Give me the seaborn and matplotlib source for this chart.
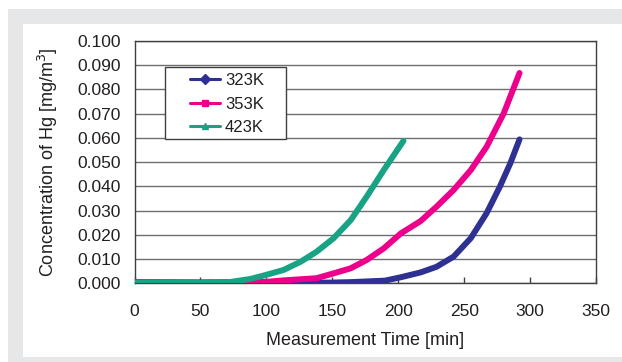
import numpy as np
import pandas as pd
import matplotlib
matplotlib.use("Agg")
import matplotlib.pyplot as plt
from matplotlib.lines import Line2D
from matplotlib.patches import Rectangle
import seaborn as sns

# values (time in min, Hg in mg/m3)
t_323 = [0, 50, 100, 150, 165, 190, 202, 217, 229, 242, 255, 267, 277, 285, 292]
v_323 = [0.0003, 0.0002, 0.0002, 0.0003, 0.0005, 0.0011, 0.0025, 0.0045, 0.0068,
         0.0110, 0.0186, 0.0289, 0.0398, 0.0495, 0.0594]

t_353 = [0, 50, 100, 113, 138, 151, 164, 176, 189, 202, 217, 229, 242, 255, 267, 280, 292]
v_353 = [0.0005, 0.0004, 0.0006, 0.0012, 0.0021, 0.0041, 0.0062, 0.0096, 0.0144,
         0.0206, 0.0257, 0.0316, 0.0385, 0.0467, 0.0563, 0.0701, 0.0868]

t_423 = [0, 50, 72, 88, 100, 113, 126, 138, 151, 164, 176, 189, 204]
v_423 = [0.0002, 0.0002, 0.0005, 0.0018, 0.0035, 0.0055, 0.0089, 0.0130, 0.0186,
         0.0261, 0.0357, 0.0467, 0.0588]

series = ["323K", "353K", "423K"]
colors = ["#2E3192", "#EC008C", "#17A384"]
markers = ["D", "s", "^"]

x_ticks = [0, 50, 100, 150, 200, 250, 300, 350]
y_ticks = [0.0, 0.01, 0.02, 0.03, 0.04, 0.05, 0.06, 0.07, 0.08, 0.09, 0.10]

df = pd.concat([
    pd.DataFrame({"time": t_323, "hg": v_323, "temp": "323K"}),
    pd.DataFrame({"time": t_353, "hg": v_353, "temp": "353K"}),
    pd.DataFrame({"time": t_423, "hg": v_423, "temp": "423K"}),
])

sns.set_theme(style="white")
plt.rcParams["font.family"] = ["Liberation Sans", "DejaVu Sans"]

W, H = 622, 362
fig = plt.figure(figsize=(W / 100, H / 100), dpi=100)
fig.patch.set_facecolor("white")

# gray frame with white inner panel
fig.patches.append(Rectangle((8 / W, 0), 1, (H - 9) / H, transform=fig.transFigure,
                             facecolor="#E6E7E8", edgecolor="none", zorder=-2))
fig.patches.append(Rectangle((23 / W, 5 / H), 1, (357 - 24) / H, transform=fig.transFigure,
                             facecolor="white", edgecolor="none", zorder=-1))

ax_l, ax_t, ax_w, ax_h = 134.5, 41.0, 461.5, 242.3
ax = fig.add_axes([ax_l / W, 1 - (ax_t + ax_h) / H, ax_w / W, ax_h / H])
ax.set_facecolor("white")

sns.lineplot(data=df, x="time", y="hg", hue="temp", palette=dict(zip(series, colors)),
             linewidth=4.3, legend=False, ax=ax, solid_capstyle="round", zorder=3)

ax.set_xlim(0, 350)
ax.set_ylim(0, 0.10)
ax.set_xticks(x_ticks)
ax.set_yticks(y_ticks)
ax.set_yticklabels([f"{v:.3f}" for v in y_ticks])
ax.yaxis.grid(True, color="#6d6e71", linewidth=1.0)
ax.set_axisbelow(True)

for s in ax.spines.values():
    s.set_color("#404040")
    s.set_linewidth(1.0)
    s.set_visible(True)

ax.tick_params(axis="x", direction="in", length=4, width=1, color="#404040",
               labelsize=12.5, pad=15, bottom=True)
ax.tick_params(axis="y", length=0, labelsize=12.5, pad=10)
for lbl in ax.get_xticklabels() + ax.get_yticklabels():
    lbl.set_color("#231f20")

ax.set_xlabel("Measurement Time [min]", fontsize=13, color="#231f20", labelpad=9)
ax.set_ylabel("Concentration of Hg [mg/m$^3$]", fontsize=13, color="#231f20", labelpad=12)


def to_ax(px, py):
    # pixel position in the picture -> axes fraction
    return (px - ax_l) / ax_w, (ax_t + ax_h - py) / ax_h


# legend frame drawn by hand to get the Excel-style box size
lx0, ly0 = to_ax(165, 139)
lx1, ly1 = to_ax(286, 67)
ax.add_patch(Rectangle((lx0, ly0), lx1 - lx0, ly1 - ly0, transform=ax.transAxes,
                       facecolor="white", edgecolor="#404040", linewidth=1.0, zorder=5))

handles = [Line2D([0], [0], color=c, marker=m, markersize=5, linewidth=2.2)
           for c, m in zip(colors, markers)]
leg = ax.legend(handles, series, loc="upper left", bbox_to_anchor=to_ax(190, 73),
                fontsize=12, frameon=False, borderaxespad=0, borderpad=0,
                handlelength=1.8, labelspacing=0.52, handletextpad=0.3)
leg.set_zorder(6)
for txt in leg.get_texts():
    txt.set_color("#231f20")

fig.savefig("out.png", dpi=100)
